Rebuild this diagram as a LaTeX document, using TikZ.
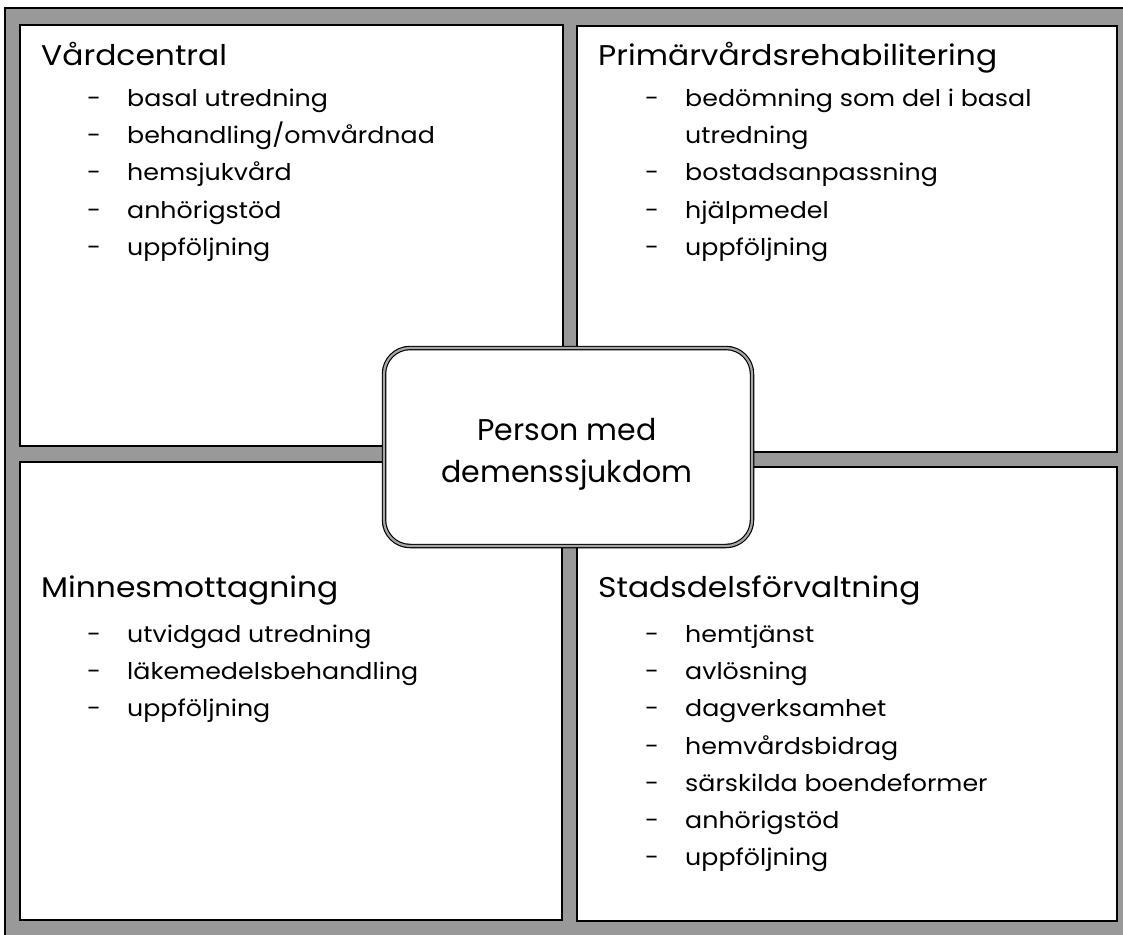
\documentclass[tikz,border=0pt]{standalone}
\usepackage{fontspec}
\setmainfont{Poppins}
\newfontfamily\widefont{Poppins}[FakeStretch=1.1]
\begin{document}
\begin{tikzpicture}[x=1pt,y=-1pt,
  barfill/.style={fill=black!40, draw=black, line width=1.2pt},
  panel/.style={fill=white, draw=black, line width=1.2pt},
  ttl/.style={anchor=base west, inner sep=0pt, font=\widefont\fontsize{28.5}{30}\selectfont},
  itm/.style={anchor=base west, inner sep=0pt, font=\widefont\fontsize{23}{25}\selectfont},
  centre/.style={rounded corners=26pt, fill=white, draw=black, line width=4.5pt},
  centreinner/.style={rounded corners=26pt, draw=black!35, line width=2.2pt}]
\useasboundingbox (0,0) rectangle (1123,934);
\fill[white] (0,0) rectangle (1123,934);
% grey frame
\draw[barfill] (5,8) rectangle (1135,945);
% white panels
\draw[panel] (20,25) rectangle (563,446);
\draw[panel] (577,26) rectangle (1117,452);
\draw[panel] (20,462) rectangle (562,920);
\draw[panel] (577,467) rectangle (1117,921);
% centre box
\draw[centre] (384,348) rectangle (752,546);
\draw[centreinner] (384,348) rectangle (752,546);
\node[anchor=base, font=\fontsize{30}{42}\selectfont, inner sep=0pt] (person1) at (567,440) {Person med};
\node[anchor=base, font=\fontsize{30}{42}\selectfont, inner sep=0pt] (person2) at (567,482) {demenssjukdom};
% top left
\newcommand{\dsh}{\makebox[40pt][l]{-}}
\node[ttl] (vc) at (41,65) {Vårdcentral};
\node[itm] (vc1) at (87,106) {\dsh basal utredning};
\node[itm] (vc2) at (87,143) {\dsh behandling/omvårdnad};
\node[itm] (vc3) at (87,180) {\dsh hemsjukvård};
\node[itm] (vc4) at (87,218) {\dsh anhörigstöd};
\node[itm] (vc5) at (87,255) {\dsh uppföljning};
% top right
\node[ttl] (pr) at (598,65) {Primärvårdsrehabilitering};
\node[itm] (pr1) at (645,106) {\dsh bedömning som del i basal};
\node[itm] (pr1b) at (645,143) {\makebox[40pt][l]{}utredning};
\node[itm] (pr2) at (645,180) {\dsh bostadsanpassning};
\node[itm] (pr3) at (645,218) {\dsh hjälpmedel};
\node[itm] (pr4) at (645,255) {\dsh uppföljning};
% bottom left
\node[ttl] (mm) at (41,597) {Minnesmottagning};
\node[itm] (mm1) at (87,642) {\dsh utvidgad utredning};
\node[itm] (mm2) at (87,679) {\dsh läkemedelsbehandling};
\node[itm] (mm3) at (87,716) {\dsh uppföljning};
% bottom right
\node[ttl] (sd) at (598,597) {Stadsdelsförvaltning};
\node[itm] (sd1) at (645,642) {\dsh hemtjänst};
\node[itm] (sd2) at (645,679) {\dsh avlösning};
\node[itm] (sd3) at (645,716) {\dsh dagverksamhet};
\node[itm] (sd4) at (645,754) {\dsh hemvårdsbidrag};
\node[itm] (sd5) at (645,791) {\dsh särskilda boendeformer};
\node[itm] (sd6) at (645,828) {\dsh anhörigstöd};
\node[itm] (sd7) at (645,865) {\dsh uppföljning};
\end{tikzpicture}
\end{document}
